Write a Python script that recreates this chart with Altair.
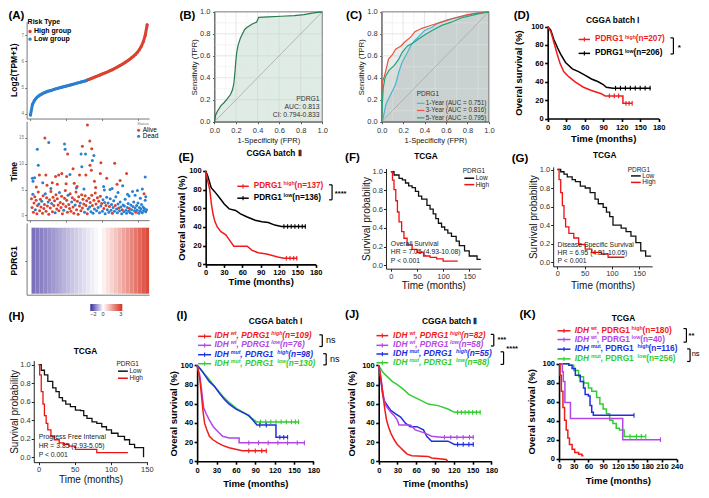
import altair as alt
import pandas as pd

W, H = 693, 482
FONT = "Liberation Sans"
RED = "#f01c1c"
PURPLE = "#b347e6"
BLUE = "#1f2fe0"
GREEN = "#33cc33"


def PX(r):
    return round(0.98 * r - 1, 2)


def PY(r):
    return round(0.968 * r - 0.8, 2)


# ---------------- data ----------------
# (A) sorted PDRG1 expression, 61 sampled ranks
a_expr = [3.95, 4.35, 4.5, 4.6, 4.67, 4.72, 4.76, 4.8, 4.83, 4.86, 4.88, 4.9, 4.93, 4.95, 4.97,
          4.99, 5.01, 5.03, 5.05, 5.07, 5.09, 5.11, 5.13, 5.15, 5.17, 5.19, 5.21, 5.23, 5.25, 5.28,
          5.31, 5.34, 5.37, 5.4, 5.43, 5.46, 5.49, 5.52, 5.55, 5.58, 5.61, 5.65, 5.68, 5.72, 5.76,
          5.8, 5.84, 5.88, 5.93, 5.98, 6.03, 6.08, 6.14, 6.2, 6.27, 6.35, 6.45, 6.58, 6.75, 7.0, 7.4]
a_expr_ticks = [4, 5, 6, 7]
a_rank_ticks = [0, 18.5, 37, 55.5]
a_time_ticks = [0, 5, 10, 15]
# (rank, time, dead)
scatter_points = [
    (1.0, 7.2, 1), (1.3, 6.6, 1), (2.1, 7.3, 1), (4.6, 7.8, 0), (3.5, 12.8, 1), (4.0, 9.7, 1),
    (7.4, 15.0, 0), (9.4, 14.1, 1), (7.9, 7.8, 0), (6.3, 6.3, 1), (14.5, 7.8, 0), (16.1, 8.1, 0),
    (18.6, 7.5, 0), (18.3, 6.1, 0), (17.5, 13.8, 1), (17.8, 12.8, 1), (19.1, 11.9, 0), (20.3, 7.9, 1),
    (12.9, 7.5, 0), (11.2, 6.3, 0), (25.2, 7.8, 0), (26.0, 11.9, 1), (26.4, 9.4, 1), (26.7, 13.4, 0),
    (29.3, 17.5, 0), (30.5, 14.4, 0), (31.5, 12.9, 0), (28.3, 11.9, 1), (32.6, 11.6, 1), (30.6, 9.7, 0),
    (31.3, 8.75, 0), (32.9, 6.6, 0), (36.2, 10.2, 0), (43.3, 10.1, 0), (31.8, 10.6, 1), (39.2, 7.2, 0),
    (40.9, 5.0, 1), (47.4, 5.75, 1), (46.1, 6.75, 0), (49.4, 8.1, 0), (59.0, 7.4, 1), (28.5, 7.8, 0),
    (21.9, 9.0, 0), (23.6, 5.3, 1), (35.9, 8.1, 0), (37.6, 5.6, 1), (45.0, 4.4, 1), (49.9, 4.1, 1),
    (50.7, 3.75, 1), (3.0, 5.5, 0), (8.5, 5.8, 0), (10.5, 5.2, 1), (13.8, 6.0, 0), (22.5, 6.2, 0),
    (24.0, 5.6, 0), (27.5, 5.1, 1), (33.5, 5.4, 0), (38.0, 4.9, 1), (42.0, 5.2, 1), (44.5, 6.0, 0),
    (52.5, 4.6, 1), (55.0, 4.8, 1), (57.5, 5.1, 1), (59.3, 3.6, 1), (53.8, 3.9, 1), (56.5, 3.3, 1),
    (58.4, 4.2, 0),
    (0.5, 3.2, 0), (0.8, 1.5, 0), (1.2, 4.1, 1), (1.5, 0.6, 0), (1.8, 2.4, 0), (2.2, 3.6, 0),
    (2.5, 1.1, 1), (2.9, 2.9, 0), (3.3, 0.3, 0), (3.6, 1.9, 0), (4.0, 4.5, 0), (4.3, 2.2, 1),
    (4.7, 0.9, 0), (5.1, 3.1, 0), (5.4, 1.6, 0), (5.8, 2.7, 1), (6.2, 0.4, 0), (6.5, 3.8, 0),
    (6.9, 1.3, 0), (7.2, 2.1, 0), (7.6, 4.2, 1), (8.0, 0.8, 0), (8.3, 3.4, 0), (8.7, 1.8, 0),
    (9.1, 2.6, 1), (9.4, 0.2, 0), (9.8, 3.0, 0), (10.2, 1.4, 0), (10.5, 4.6, 0), (10.9, 2.3, 1),
    (11.3, 0.7, 0), (11.6, 3.5, 0), (12.0, 1.9, 0), (12.4, 2.8, 0), (12.7, 0.5, 1), (13.1, 4.0, 0),
    (13.5, 1.2, 0), (13.8, 3.2, 0), (14.2, 2.0, 0), (14.6, 0.9, 0), (14.9, 4.4, 1), (15.3, 2.5, 0),
    (15.7, 1.5, 0), (16.0, 3.7, 0), (16.4, 0.3, 0), (16.8, 2.2, 0), (17.1, 1.0, 1), (17.5, 3.3, 0),
    (17.9, 4.8, 0), (18.2, 1.7, 0), (18.6, 2.9, 0), (19.0, 0.6, 0), (19.3, 3.9, 1), (19.7, 2.1, 0),
    (20.1, 1.3, 0), (20.4, 4.2, 0), (20.8, 0.8, 0), (21.2, 2.6, 1), (21.5, 3.4, 0), (21.9, 1.6, 0),
    (22.3, 0.4, 0), (22.6, 3.0, 0), (23.0, 2.0, 1), (23.4, 4.5, 0), (23.7, 1.1, 0), (24.1, 2.7, 0),
    (24.5, 0.2, 0), (24.8, 3.6, 0), (25.2, 1.8, 0), (25.6, 2.4, 1), (25.9, 0.9, 0), (26.3, 4.0, 0),
    (26.7, 1.4, 0), (27.0, 3.1, 0), (27.4, 2.2, 0), (27.8, 0.6, 1), (28.1, 3.8, 0), (28.5, 1.9, 0),
    (28.9, 2.8, 0), (29.2, 0.3, 0), (29.6, 1.2, 1), (30.0, 3.3, 0), (30.4, 1.6, 1), (30.7, 2.5, 0),
    (31.1, 0.7, 1), (31.5, 3.9, 0), (31.8, 1.9, 0), (32.2, 0.4, 1), (32.6, 2.9, 0), (32.9, 1.2, 1),
    (33.3, 4.3, 0), (33.7, 2.2, 0), (34.0, 0.9, 1), (34.4, 3.4, 0), (34.8, 1.5, 1), (35.1, 2.7, 0),
    (35.5, 0.5, 1), (35.9, 3.7, 0), (36.2, 1.8, 1), (36.6, 2.3, 0), (37.0, 0.8, 1), (37.3, 3.0, 1),
    (37.7, 1.3, 0), (38.1, 2.5, 1), (38.4, 0.3, 1), (38.8, 1.9, 0), (39.2, 3.5, 1), (39.5, 1.1, 1),
    (39.9, 2.4, 1), (40.3, 0.6, 1), (40.6, 1.7, 0), (41.0, 3.2, 1), (41.4, 1.0, 1), (41.7, 2.1, 1),
    (42.1, 0.4, 0), (42.5, 1.5, 1), (42.8, 2.8, 1), (43.2, 0.8, 1), (43.6, 1.9, 0), (43.9, 3.6, 1),
    (44.3, 1.2, 1), (44.7, 0.5, 1), (45.0, 2.2, 1), (45.4, 1.4, 0), (45.8, 0.9, 1), (46.1, 2.6, 1),
    (46.5, 1.6, 1), (46.9, 0.3, 1), (47.2, 1.1, 0), (47.6, 2.0, 1), (48.0, 0.7, 1), (48.3, 1.8, 1),
    (48.7, 3.1, 1), (49.1, 1.0, 1), (49.4, 0.4, 1), (49.8, 1.5, 1), (50.2, 2.3, 1), (50.5, 0.8, 1),
    (50.9, 1.3, 0), (51.3, 0.5, 1), (51.6, 2.0, 1), (52.0, 1.1, 1), (52.4, 0.3, 1), (52.7, 1.7, 1),
    (53.1, 2.6, 1), (53.5, 0.9, 1), (53.8, 1.4, 1), (54.2, 0.6, 0), (54.6, 1.9, 1), (54.9, 1.0, 1),
    (55.3, 2.4, 1), (55.7, 0.4, 1), (56.0, 1.5, 1), (56.4, 0.8, 1), (56.8, 1.2, 1), (57.1, 2.1, 1),
    (57.5, 0.5, 1), (57.9, 1.6, 1), (58.2, 0.9, 1), (58.6, 1.3, 1), (59.0, 2.9, 1), (59.3, 0.7, 1),
    (59.7, 1.1, 1),
]
heat_z = [-1.35, -1.27, -1.19, -1.11, -1.03, -0.95, -0.87, -0.79, -0.71, -0.63, -0.55, -0.47, -0.39,
          -0.31, -0.23, -0.15, -0.07, 0.0, 0.2, 0.42, 0.64, 0.86, 1.08, 1.3, 1.52, 1.74, 1.96, 2.18,
          2.4, 2.62]
heat_legend_values = [-2, 0, 3]

# (B) ROC
roc_ticks = [0, 0.2, 0.4, 0.6, 0.8, 1.0]
grid_minor = [0.1, 0.3, 0.5, 0.7, 0.9]
diag = [0, 1]
b_fpr = [0, 0.01, 0.03, 0.06, 0.09, 0.12, 0.15, 0.167, 0.18, 0.19, 0.197, 0.206, 0.22, 0.24, 0.26,
         0.28, 0.30, 0.35, 0.39, 0.41, 0.5, 0.62, 0.74, 0.83, 0.92, 1.0]
b_tpr = [0, 0.06, 0.1, 0.146, 0.175, 0.21, 0.25, 0.29, 0.35, 0.45, 0.54, 0.63, 0.70, 0.76, 0.80,
         0.84, 0.857, 0.89, 0.906, 0.95, 0.955, 0.96, 0.965, 0.975, 0.99, 1.0]
# (C) time-dependent ROC
c1_fpr = [0, 0.01, 0.04, 0.07, 0.1, 0.13, 0.16, 0.19, 0.24, 0.27, 0.3, 0.34, 0.4, 0.47, 0.53, 0.62,
          0.71, 0.8, 0.89, 1.0]
c1_tpr = [0, 0.015, 0.16, 0.22, 0.28, 0.34, 0.45, 0.54, 0.63, 0.69, 0.73, 0.77, 0.83, 0.86, 0.9,
          0.93, 0.95, 0.97, 0.99, 1.0]
c3_fpr = [0, 0.003, 0.01, 0.024, 0.04, 0.064, 0.1, 0.13, 0.18, 0.22, 0.27, 0.31, 0.375, 0.47, 0.56,
          0.68, 0.8, 0.92, 1.0]
c3_tpr = [0, 0.28, 0.37, 0.41, 0.47, 0.57, 0.61, 0.66, 0.69, 0.73, 0.77, 0.82, 0.85, 0.88, 0.906,
          0.944, 0.974, 0.99, 1.0]
c5_fpr = [0, 0.006, 0.015, 0.034, 0.07, 0.116, 0.16, 0.19, 0.24, 0.3, 0.34, 0.4, 0.47, 0.56, 0.65,
          0.74, 0.83, 0.92, 1.0]
c5_tpr = [0, 0.16, 0.31, 0.41, 0.47, 0.51, 0.57, 0.63, 0.69, 0.72, 0.75, 0.79, 0.83, 0.877, 0.906,
          0.944, 0.965, 0.985, 1.0]

# Kaplan-Meier curves (months, survival)
months_180 = [0, 30, 60, 90, 120, 150, 180]
months_240 = [0, 30, 60, 90, 120, 150, 180, 210, 240]
pct_ticks = [0, 20, 40, 60, 80, 100]
months_50 = [0, 50, 100, 150]
prob_ticks = [0.0, 0.2, 0.4, 0.6, 0.8, 1.0]

d_high_t = [0, 5, 10, 15, 20, 26, 34, 45, 58, 71, 87, 93, 122, 122, 137]
d_high_s = [100, 94.5, 83, 71, 60, 51, 45.5, 39.5, 34, 30.5, 27, 24.6, 24.6, 16.5, 16.5]
d_low_t = [0, 5, 10, 16, 21, 29, 40, 50, 61, 71, 82, 90, 95, 106, 167]
d_low_s = [100, 96, 86, 77, 70, 61, 54, 51, 47, 43, 40, 37, 34, 33, 33]
d_high_cens_t = [100, 108, 115, 127, 132, 137]
d_high_cens_s = [24.6, 24.6, 24.6, 16.5, 16.5, 16.5]
d_low_cens_t = [110, 118, 126, 134, 142, 150, 158, 166]
d_low_cens_s = [33, 33, 33, 33, 33, 33, 33, 33]

e_high_t = [0, 3, 6.7, 9.5, 12.3, 15, 19, 25, 33, 38.5, 46, 68, 76, 86, 100, 118, 128, 150]
e_high_s = [100, 90, 80, 64, 53, 46, 40, 35, 31.5, 26.5, 19.5, 19.5, 15, 12.5, 11, 8, 6.6, 6.6]
e_low_t = [0, 3.7, 9, 14.4, 22.4, 30.4, 38.5, 49, 57, 68, 81, 92, 102.5, 113, 124, 164]
e_low_s = [100, 94, 82, 78, 71.5, 64.5, 59.3, 57.6, 54, 50.7, 47.2, 45.5, 44.8, 42, 40.5, 40.5]
e_high_cens_t = [132, 138, 144, 149]
e_high_cens_s = [6.6, 6.6, 6.6, 6.6]
e_low_cens_t = [128, 134, 140, 146, 152, 158, 163]
e_low_cens_s = [40.5, 40.5, 40.5, 40.5, 40.5, 40.5, 40.5]

f_low_t = [0, 6, 15.6, 22, 28, 34, 40.6, 47, 53, 59, 69, 75, 81, 86, 91, 97, 103, 109, 116, 125,
           131, 141, 150, 165, 172]
f_low_s = [1, 0.965, 0.93, 0.914, 0.88, 0.85, 0.83, 0.79, 0.74, 0.707, 0.64, 0.6, 0.55, 0.5, 0.45,
           0.41, 0.38, 0.345, 0.31, 0.26, 0.21, 0.155, 0.1, 0.065, 0.065]
f_high_t = [0, 3, 6, 9.4, 12.5, 15.6, 20.6, 25, 31, 40.6, 50, 62.5, 75, 87.5, 100, 128]
f_high_s = [1, 0.91, 0.81, 0.69, 0.57, 0.465, 0.36, 0.29, 0.22, 0.17, 0.14, 0.1, 0.086, 0.07,
            0.045, 0.045]

g_low_t = [0, 6, 12, 18, 27, 33, 42, 51, 60, 69, 75, 84, 90, 96, 102, 117, 126, 135, 144, 153,
           162, 172]
g_low_s = [1, 0.976, 0.95, 0.92, 0.89, 0.87, 0.82, 0.8, 0.75, 0.68, 0.63, 0.59, 0.54, 0.49, 0.4,
           0.366, 0.33, 0.28, 0.21, 0.12, 0.065, 0.065]
g_high_t = [0, 3, 6, 9, 12, 15, 21, 30, 39, 51, 63, 81, 93, 123]
g_high_s = [1, 0.89, 0.75, 0.61, 0.47, 0.38, 0.31, 0.26, 0.19, 0.14, 0.105, 0.087, 0.052, 0.052]

h_low_t = [0, 3.6, 8, 12.7, 19.5, 24, 28.5, 33, 37.6, 44, 51, 58, 62.5, 67, 74, 80.6, 87.5, 94,
           101, 110, 119, 126, 133, 145.4, 145.4]
h_low_s = [1, 0.94, 0.89, 0.82, 0.75, 0.71, 0.645, 0.61, 0.575, 0.547, 0.51, 0.505, 0.45, 0.42,
           0.383, 0.366, 0.33, 0.296, 0.26, 0.226, 0.19, 0.14, 0.105, 0.105, 0]
h_high_t = [0, 1.4, 3.6, 6, 8, 10.4, 12.7, 17, 21.7, 28.5, 35, 42, 51, 80.6, 123.7]
h_high_s = [1, 0.89, 0.71, 0.575, 0.45, 0.366, 0.296, 0.226, 0.19, 0.157, 0.14, 0.12, 0.087, 0.05,
            0.05]

i_red_t = [0, 4, 6.6, 9, 11.6, 15, 19, 24, 32, 39.4, 49.5, 59.7, 70, 107.7]
i_red_s = [100, 86.5, 69.7, 52.9, 39.4, 32.7, 26, 22.6, 19.2, 16.5, 14.1, 12.5, 10.8, 10.8]
i_pur_t = [0, 4, 6.6, 10, 14, 19, 25, 32, 39.4, 49.5, 65, 65, 167]
i_pur_s = [100, 90, 76.4, 56, 49.5, 42.8, 36, 31, 26, 24.2, 24.2, 19.2, 19.2]
i_blu_t = [0, 6.6, 11.6, 19, 27, 34, 42, 49.5, 59.7, 70, 80, 87.5, 92.5, 122, 122, 140]
i_blu_s = [100, 95, 90, 83, 78, 71.4, 64.6, 59.6, 54.5, 51, 47.8, 42, 37.7, 37.7, 25, 25]
i_grn_t = [0, 9, 19, 29, 39.4, 49.5, 62, 72, 82, 90, 92, 158]
i_grn_s = [100, 93, 85, 76.4, 68, 61.3, 54.5, 51, 46, 42, 41, 41]
i_red_cens_t = [80, 90, 100, 107]
i_red_cens_s = [10.8, 10.8, 10.8, 10.8]
i_pur_cens_t = [80, 95, 110, 125, 140, 155, 166]
i_pur_cens_s = [19.2, 19.2, 19.2, 19.2, 19.2, 19.2, 19.2]
i_blu_cens_t = [97, 107, 128, 134, 140]
i_blu_cens_s = [37.7, 37.7, 25, 25, 25]
i_grn_cens_t = [98, 106, 114, 122, 130, 138, 146, 152, 157]
i_grn_cens_s = [41, 41, 41, 41, 41, 41, 41, 41, 41]

j_red_t = [0, 2, 4.7, 7.3, 10, 12.5, 15.6, 19.3, 24.5, 29.7, 35, 40, 45.4, 53, 79, 84.5, 108, 110]
j_red_s = [100, 93, 80, 66, 53, 43, 36, 29.3, 22.6, 17.5, 14, 10.8, 7.4, 5.7, 5, 3.4, 1.7, 0]
j_pur_t = [0, 3.7, 6.3, 9, 11.5, 15.6, 19.3, 24.5, 29.7, 32.4, 50.6, 58.4, 74, 84.5, 100, 152]
j_pur_s = [100, 86.5, 73, 63, 58, 54.5, 51, 47.8, 42.8, 37.7, 37.7, 32.7, 29.3, 26, 25, 25]
j_blu_t = [0, 3.7, 6.3, 9, 14, 19.3, 27, 35, 43, 50.6, 61, 71.5, 76.7, 84.5, 110.6, 121, 152]
j_blu_s = [100, 83, 69.7, 63, 58, 52.9, 49.5, 46, 39.4, 36, 36, 32.7, 26, 20.9, 20.9, 17.5, 17.5]
j_grn_t = [0, 6.3, 14, 22, 29.7, 40, 48, 58.4, 69, 79, 95, 110.6, 121, 163]
j_grn_s = [100, 93, 88, 83, 79.8, 74.7, 69.7, 66.3, 63, 59.6, 58, 54.5, 51, 51]
j_pur_cens_t = [105, 115, 125, 135, 145, 151]
j_pur_cens_s = [25, 25, 25, 25, 25, 25]
j_blu_cens_t = [126, 135, 144, 151]
j_blu_cens_s = [17.5, 17.5, 17.5, 17.5]
j_grn_cens_t = [126, 132, 138, 144, 150, 156, 162]
j_grn_cens_s = [51, 51, 51, 51, 51, 51, 51]

k_red_t = [0, 2, 4.7, 8, 11.3, 14.7, 18, 21.3, 26.7, 32, 40, 46.7, 50]
k_red_s = [100, 88, 71, 54, 40.7, 30.5, 22, 15.3, 10.2, 6.8, 5, 3.4, 3.4]
k_pur_t = [0, 6.7, 8.7, 12, 23.3, 130, 207]
k_pur_s = [100, 91.5, 81.4, 59.3, 42.4, 20.3, 20.3]
k_blu_t = [0, 20, 26.7, 33.3, 43.3, 50, 53.3, 60, 63.3, 66.7, 70, 153]
k_blu_s = [100, 98.3, 95, 88, 81.4, 74.6, 67.8, 66, 56, 49, 45.8, 45.8]
k_grn_t = [0, 20, 30, 40, 50, 60, 66.7, 76.7, 83.3, 90, 96.7, 103.3, 110, 116.7, 123.3, 133, 177]
k_grn_s = [100, 98.3, 93, 86.4, 79.7, 74.6, 71, 64.4, 57.6, 52.5, 47.5, 40.7, 37.3, 32.2, 30.5,
           23.7, 23.7]
k_pur_cens_t = [207]
k_pur_cens_s = [20.3]
k_blu_cens_t = [153]
k_blu_cens_s = [45.8]
k_grn_cens_t = [145, 158, 168, 177]
k_grn_cens_s = [23.7, 23.7, 23.7, 23.7]

# ---------------- helpers ----------------
ONE = pd.DataFrame({"k": [0]})


def txt(x, y, s, size=8, weight="normal", style="normal", color="black", align="left", angle=0,
        baseline="middle"):
    props = dict(font=FONT, fontSize=size, fontWeight=weight, fontStyle=style, color=color,
                 align=align, baseline=baseline)
    if angle:
        props["angle"] = angle
    return alt.Chart(ONE).mark_text(**props).encode(
        x=alt.value(PX(x)), y=alt.value(PY(y)), text=alt.value(s))


def seg(x1, y1, x2, y2, color="black", w=1.0):
    return alt.Chart(ONE).mark_rule(color=color, strokeWidth=w).encode(
        x=alt.value(PX(x1)), y=alt.value(PY(y1)), x2=alt.value(PX(x2)), y2=alt.value(PY(y2)))


def dot(x, y, color, size=10):
    return alt.Chart(ONE).mark_point(filled=True, size=size, color=color, opacity=1).encode(
        x=alt.value(PX(x)), y=alt.value(PY(y)))


BW = {" ": 278, "(": 333, ")": 333, ",": 278, "-": 333, ".": 278, "=": 584, "*": 389,
      "A": 722, "C": 722, "D": 722, "G": 778, "H": 722, "I": 278, "P": 667, "R": 722,
      "a": 556, "b": 611, "c": 556, "e": 556, "g": 611, "h": 611, "i": 278, "l": 278,
      "m": 889, "n": 611, "o": 611, "s": 556, "t": 333, "u": 611, "w": 778}


def tw(s, size):
    return sum(BW.get(ch, 556) for ch in s) * size / 1000.0


def rich(x, y, parts, size, color, italic_idx=()):
    out = []
    cx = x
    for k, (s, sup) in enumerate(parts):
        fs = size * 0.64 if sup else size
        yy = y - size * 0.36 if sup else y
        out.append(txt(cx, yy, s, fs, "bold", "italic" if k in italic_idx else "normal", color))
        cx += tw(s, fs)
    return out


def legline(x1, x2, y, color, w=1.5):
    xm = (x1 + x2) / 2
    return [seg(x1, y, x2, y, color, w), seg(xm, y - 2.2, xm, y + 2.2, color, 1.1)]


def bracket(x, y1, y2, w=1.2):
    return [seg(x, y1, x, y2, "black", w), seg(x - 3, y1, x, y1, "black", w),
            seg(x - 3, y2, x, y2, "black", w)]


def scx(dom, lo, hi):
    return alt.Scale(domain=dom, range=[PX(lo), PX(hi)], nice=False, zero=False)


def scy(dom, lo, hi):
    return alt.Scale(domain=dom, range=[PY(lo), PY(hi)], nice=False, zero=False)


def xax(ypos, values, title, style, tpad=2, lpad=1.5, **kw):
    d = dict(style)
    d.update(kw)
    return alt.Axis(orient="bottom", offset=round(PY(ypos) - H, 2), values=values, title=title,
                    titlePadding=tpad, labelPadding=lpad, **d)


def yax(xpos, values, title, style, tpad=2, lpad=1.5, **kw):
    d = dict(style)
    d.update(kw)
    return alt.Axis(orient="left", offset=-PX(xpos), values=values, title=title,
                    titlePadding=tpad, labelPadding=lpad, **d)


GP = dict(domainColor="black", domainWidth=1.6, tickColor="black", tickWidth=1.6, tickSize=3,
          labelFont=FONT, labelFontSize=7.5, labelFontWeight="bold", labelColor="black",
          titleFont=FONT, titleFontSize=9.5, titleFontWeight="bold", titleColor="black",
          labelFlush=False, labelOverlap=False, grid=False, format="d")
SM = dict(domainColor="#222", domainWidth=1.0, tickColor="#222", tickWidth=1.0, tickSize=2.5,
          labelFont=FONT, labelFontSize=7.5, labelColor="#333", titleFont=FONT, titleFontSize=10,
          titleFontWeight="normal", titleColor="#111", labelFlush=False, labelOverlap=False,
          grid=False)
ROC = dict(domainColor="#333", domainWidth=0.8, tickColor="#333", tickWidth=0.8, tickSize=2,
           labelFont=FONT, labelFontSize=7.5, labelColor="#333", titleFont=FONT, titleFontSize=7.5,
           titleFontWeight="normal", titleColor="#111", labelFlush=False, labelOverlap=False,
           grid=False, format=".1f")
AXA = dict(domainColor="#555", domainWidth=0.8, tickColor="#555", tickWidth=0.7, tickSize=2,
           labelFont=FONT, labelFontSize=4.5, labelColor="#777", labelFlush=False,
           labelOverlap=False, grid=False)


def km(curves, xs, ys, xaxis, yaxis, interp, sw=1.5, cens=()):
    frames = []
    for gi, (t, s, c) in enumerate(curves):
        frames.append(pd.DataFrame({"t": t, "s": s, "o": list(range(len(t))), "c": c, "g": gi}))
    df = pd.concat(frames, ignore_index=True)
    out = [alt.Chart(df).mark_line(interpolate=interp, strokeWidth=sw).encode(
        x=alt.X("t:Q", scale=xs, axis=xaxis),
        y=alt.Y("s:Q", scale=ys, axis=yaxis),
        color=alt.Color("c:N", scale=None),
        detail="g:N",
        order=alt.Order("o:Q"),
    )]
    if cens:
        cdf = pd.concat([pd.DataFrame({"t": t, "s": s, "c": c}) for t, s, c in cens],
                        ignore_index=True)
        out.append(alt.Chart(cdf).mark_point(shape="M0,-1L0,1", size=22, strokeWidth=1.1,
                                             filled=False, opacity=1).encode(
            x=alt.X("t:Q", scale=xs, axis=None), y=alt.Y("s:Q", scale=ys, axis=None),
            color=alt.Color("c:N", scale=None)))
    return out


def roc_panel(curves, xs, ys, xaxis, yaxis, fill, fill_op):
    layers = []
    gmin = pd.DataFrame({"v": grid_minor})
    gmaj = pd.DataFrame({"v": roc_ticks})
    for fpr, tpr, c in curves:
        df = pd.DataFrame({"f": fpr, "t": tpr})
        layers.append(alt.Chart(df).mark_area(color=fill, opacity=fill_op).encode(
            x=alt.X("f:Q", scale=xs, axis=None), y=alt.Y("t:Q", scale=ys, axis=None)))
    for gdf, colr, w in [(gmin, "#e6e6e6", 0.5), (gmaj, "#d0d0d0", 0.6)]:
        layers.append(alt.Chart(gdf).mark_rule(color=colr, strokeWidth=w, opacity=0.9).encode(
            x=alt.X("v:Q", scale=xs, axis=None),
            y=alt.YDatum(0, type="quantitative", scale=ys, axis=None), y2=alt.Y2Datum(1)))
        layers.append(alt.Chart(gdf).mark_rule(color=colr, strokeWidth=w, opacity=0.9).encode(
            y=alt.Y("v:Q", scale=ys, axis=None),
            x=alt.XDatum(0, type="quantitative", scale=xs, axis=None), x2=alt.X2Datum(1)))
    layers.append(alt.Chart(pd.DataFrame({"v": diag})).mark_line(color="#a8a8a8", strokeWidth=0.8).encode(
        x=alt.X("v:Q", scale=xs, axis=None), y=alt.Y("v:Q", scale=ys, axis=None)))
    frames = []
    for gi, (fpr, tpr, c) in enumerate(curves):
        frames.append(pd.DataFrame({"f": fpr, "t": tpr, "c": c, "g": gi, "o": list(range(len(fpr)))}))
    df = pd.concat(frames, ignore_index=True)
    layers.append(alt.Chart(ONE).mark_rect(fillOpacity=0, stroke="#555", strokeWidth=0.7).encode(
        x=alt.XDatum(0, type="quantitative", scale=xs, axis=None), x2=alt.X2Datum(1),
        y=alt.YDatum(0, type="quantitative", scale=ys, axis=None), y2=alt.Y2Datum(1)))
    layers.append(alt.Chart(df).mark_line(strokeWidth=1.2).encode(
        x=alt.X("f:Q", scale=xs, axis=xaxis), y=alt.Y("t:Q", scale=ys, axis=yaxis),
        color=alt.Color("c:N", scale=None), detail="g:N", order=alt.Order("o:Q")))
    return layers


panels = []
ann = []

# ---------------- (A) ----------------
xsA = scx([-2, 61], 20, 145)
ysA1 = scy([3.815, 7.52], 115, 15)
n_blue = 31
a1_df = pd.DataFrame({
    "r": list(range(n_blue)) + list(range(n_blue - 1, len(a_expr))),
    "v": a_expr[:n_blue] + a_expr[n_blue - 1:],
    "c": ["#2a7fd0"] * n_blue + ["#d8432f"] * (len(a_expr) - n_blue + 1),
})
a1_df["o"] = list(range(len(a1_df)))
panels.append(alt.Chart(a1_df).mark_line(strokeWidth=3, strokeCap="round").encode(
    x=alt.X("r:Q", scale=xsA, axis=xax(115, a_rank_ticks, "", AXA, 0, 1, labels=False)),
    y=alt.Y("v:Q", scale=ysA1, axis=yax(20, a_expr_ticks, "", AXA, 0, 1)),
    color=alt.Color("c:N", scale=None), order=alt.Order("o:Q")))
panels.append(alt.Chart(a1_df).mark_circle(size=9, opacity=1).encode(
    x=alt.X("r:Q", scale=xsA, axis=None), y=alt.Y("v:Q", scale=ysA1, axis=None),
    color=alt.Color("c:N", scale=None)))

ysA2 = scy([-0.94, 18.19], 220, 118)
a2_df = pd.DataFrame(scatter_points, columns=["r", "t", "d"])
a2_df["c"] = ["#2a7fd0" if d else "#d8432f" for d in a2_df["d"]]
panels.append(alt.Chart(a2_df).mark_circle(size=9, opacity=1).encode(
    x=alt.X("r:Q", scale=xsA, axis=xax(220, a_rank_ticks, "", AXA, 0, 1, labels=False)),
    y=alt.Y("t:Q", scale=ysA2, axis=yax(20, a_time_ticks, "", AXA, 0, 1)),
    color=alt.Color("c:N", scale=None)))

xsA3 = scx([-1.25, 30], 20, 145)
ysA3 = scy([-0.015, 1.07], 297, 223)
a3_df = pd.DataFrame({"c": list(range(len(heat_z))), "z": heat_z})
a3_df["c2"] = a3_df["c"] + 1
panels.append(alt.Chart(a3_df).mark_rect().encode(
    x=alt.X("c:Q", scale=xsA3, axis=xax(297, [0], "", AXA, 0, 1, labels=False, ticks=False)),
    x2="c2:Q",
    y=alt.YDatum(0, type="quantitative", scale=ysA3,
                 axis=yax(20, [0.5], "", AXA, 0, 1, labels=False)),
    y2=alt.Y2Datum(1),
    color=alt.Color("z:Q", scale=alt.Scale(domain=[-2, 0, 3], range=["#3a2b9c", "#ffffff", "#d7301f"],
                                          interpolate="rgb"),
                    legend=alt.Legend(orient="none", legendX=PX(85), legendY=PY(306.5),
                                      direction="horizontal", gradientLength=32, gradientThickness=7,
                                      title=None, values=heat_legend_values, labelFontSize=5.5,
                                      labelFont=FONT, labelColor="#333", labelOffset=1,
                                      gradientStrokeWidth=0))))

ann += [txt(1.5, 9, "(A)", 11.5, "bold"),
        txt(21, 15, "Risk Type", 7, "bold"),
        dot(23.5, 25, "#d8432f", 12), txt(27.5, 25, "High group", 7, "bold"),
        dot(23.5, 33, "#2a7fd0", 12), txt(27.5, 33, "Low group", 7, "bold"),
        txt(7, 65, "Log2(TPM+1)", 8.5, "bold", angle=270, align="center"),
        txt(133, 121, "Status", 4, color="#777"),
        dot(134.3, 127, "#d8432f", 9), txt(138.5, 127, "Alive", 6.5),
        dot(134.3, 133.3, "#2a7fd0", 9), txt(138.5, 133.3, "Dead", 6.5),
        txt(7, 170, "Time", 8.5, "bold", angle=270, align="center"),
        txt(7, 262, "PDRG1", 8.5, "bold", angle=270, align="center")]

# ---------------- (B) ----------------
xsB = scx([0, 1], 211.7, 321.7)
ysR = scy([0, 1], 118.3, 4.8)
panels += roc_panel([(b_fpr, b_tpr, "#2a7a50")], xsB, ysR,
                    xax(118.3, roc_ticks, "1-Specificity (FPR)", ROC, 2.5, 2.5),
                    yax(211.7, roc_ticks, "Sensitivity (TPR)", ROC, 1.5, 2.5),
                    "#7fae98", 0.25)
ann += [txt(176, 9, "(B)", 11.5, "bold"),
        txt(319, 95, "PDRG1", 6.8, color="#333", align="right"),
        txt(319, 103.3, "AUC: 0.813", 6.8, color="#333", align="right"),
        txt(319, 111.7, "CI: 0.794-0.833", 6.8, color="#333", align="right")]

# ---------------- (C) ----------------
xsC = scx([0, 1], 382.3, 491.7)
C1, C3, C5 = "#45b7d3", "#e8553f", "#1ea67c"
panels += roc_panel([(c1_fpr, c1_tpr, C1), (c3_fpr, c3_tpr, C3), (c5_fpr, c5_tpr, C5)],
                    xsC, ysR,
                    xax(118.3, roc_ticks, "1-Specificity (FPR)", ROC, 2.5, 2.5),
                    yax(382.3, roc_ticks, "Sensitivity (TPR)", ROC, 1.5, 2.5),
                    "#8fa59e", 0.2)
ann += [txt(346, 9, "(C)", 11.5, "bold"),
        txt(418, 90, "PDRG1", 6.5, color="#333"),
        seg(418.3, 99.3, 426, 99.3, C1, 1.2), txt(427.3, 99.3, "1-Year (AUC = 0.751)", 6.3, color="#333"),
        seg(418.3, 106.7, 426, 106.7, C3, 1.2), txt(427.3, 106.7, "3-Year (AUC = 0.816)", 6.3, color="#333"),
        seg(418.3, 114.3, 426, 114.3, C5, 1.2), txt(427.3, 114.3, "5-Year (AUC = 0.795)", 6.3, color="#333")]

# ---------------- (D) ----------------
panels += km([(d_low_t, d_low_s, "black"), (d_high_t, d_high_s, RED)],
             scx([0, 180], 551.7, 665), scy([0, 100], 115, 20),
             xax(115, months_180, "Time (months)", GP, 3.2, 1.5),
             yax(551.7, pct_ticks, "Overal survival (%)", GP, 7, 1.5), "linear",
             cens=[(d_low_cens_t, d_low_cens_s, "black"), (d_high_cens_t, d_high_cens_s, RED)])
ann += [txt(517, 9, "(D)", 11.5, "bold"),
        txt(618, 14, "CGGA batch Ⅰ", 8.3, "bold", align="center")]
ann += legline(583.3, 595, 33.3, RED)
ann += rich(600, 33.3, [("PDRG1 ", 0), ("high", 1), ("(n=207)", 0)], 8.2, RED)
ann += legline(583.3, 595, 47.7, "black")
ann += rich(600, 47.7, [("PDRG1 ", 0), ("low", 1), ("(n=206)", 0)], 8.2, "black")
ann += bracket(680, 31.7, 48.3)
ann += [txt(684.5, 42, "*", 8, "bold")]

# ---------------- (E) ----------------
panels += km([(e_low_t, e_low_s, "black"), (e_high_t, e_high_s, RED)],
             scx([0, 180], 202.7, 315), scy([0, 100], 265.7, 169),
             xax(265.7, months_180, "Time (months)", GP, 0.5, 0.8),
             yax(202.7, pct_ticks, "Overal survival (%)", GP, 2, 1.5), "linear",
             cens=[(e_low_cens_t, e_low_cens_s, "black"), (e_high_cens_t, e_high_cens_s, RED)])
ann += [txt(175, 156, "(E)", 11.5, "bold"),
        txt(272.5, 151.7, "CGGA batch Ⅱ", 8.3, "bold", align="center")]
ann += legline(235, 246.7, 185, RED)
ann += rich(251.7, 185, [("PDRG1 ", 0), ("high", 1), ("(n=137)", 0)], 8.2, RED)
ann += legline(235, 246.7, 197.3, "black")
ann += rich(251.7, 197.3, [("PDRG1 ", 0), ("low", 1), ("(n=136)", 0)], 8.2, "black")
ann += bracket(331.7, 183.5, 199)
ann += [txt(334.5, 193.3, "****", 7.5, "bold")]

# ---------------- (F) ----------------
panels += km([(f_low_t, f_low_s, "#111111"), (f_high_t, f_high_s, "#ee1111")],
             scx([-9.4, 172], 386.7, 483.4), scy([-0.035, 1.035], 270.1, 166.6),
             xax(270.1, months_50, "Time (months)", SM, 0.5, 1, format="d"),
             yax(386.7, prob_ticks, "Survival probability", SM, 1, 1, format=".1f"),
             "step-after", 1.3)
ann += [txt(345, 156, "(F)", 11.5, "bold"),
        txt(427.5, 154.3, "TCGA", 8.3, "bold", align="center"),
        txt(465, 169, "PDRG1", 6.5, color="#222"),
        seg(466.7, 176.7, 476.7, 176.7, "#111111", 1.5), txt(478.3, 176.7, "Low", 6.5, color="#222"),
        seg(466.7, 183.3, 476.7, 183.3, "#ee1111", 1.5), txt(478.3, 183.3, "High", 6.5, color="#222"),
        txt(391.7, 245, "Overall Survival", 6.8, color="#222"),
        txt(391.7, 253.3, "HR = 7.05 (4.93-10.08)", 6.8, color="#222"),
        txt(391.7, 261.7, "P < 0.001", 6.8, color="#222")]

# ---------------- (G) ----------------
panels += km([(g_low_t, g_low_s, "#111111"), (g_high_t, g_high_s, "#ee1111")],
             scx([-7.9, 173.9], 557.3, 658.3), scy([-0.046, 1.028], 267.7, 165.0),
             xax(267.7, months_50, "Time (months)", SM, 3.5, 1, format="d"),
             yax(557.3, prob_ticks, "Survival probability", SM, 1, 1, format=".1f"),
             "step-after", 1.3)
ann += [txt(515, 157, "(G)", 11.5, "bold"),
        txt(610, 153.3, "TCGA", 8.3, "bold", align="center"),
        txt(633.3, 167.7, "PDRG1", 6.5, color="#222"),
        seg(636.7, 174.3, 646.7, 174.3, "#111111", 1.5), txt(648.3, 174.3, "Low", 6.5, color="#222"),
        seg(636.7, 181, 646.7, 181, "#ee1111", 1.5), txt(648.3, 181, "High", 6.5, color="#222"),
        txt(561.7, 246, "Disease Specific Survival", 6.8, color="#222"),
        txt(561.7, 254.3, "HR = 6.95 (4.81-10.05)", 6.8, color="#222"),
        txt(561.7, 262.3, "P < 0.001", 6.8, color="#222")]

# ---------------- (H) ----------------
panels += km([(h_low_t, h_low_s, "#111111"), (h_high_t, h_high_s, "#ee1111")],
             scx([-6.8, 150.8], 27.3, 143.3), scy([-0.052, 1.045], 470, 365),
             xax(470, months_50, "Time (months)", SM, 1, 1, format="d"),
             yax(27.3, prob_ticks, "Survival probability", SM, 0.5, 1, format=".1f"),
             "step-after", 1.3)
ann += [txt(1.5, 320, "(H)", 11.5, "bold"),
        txt(80, 355.7, "TCGA", 8.3, "bold", align="center"),
        txt(111.7, 368.7, "PDRG1", 6.5, color="#222"),
        seg(113.3, 376, 123.3, 376, "#111111", 1.5), txt(125, 376, "Low", 6.5, color="#222"),
        seg(113.3, 383.3, 123.3, 383.3, "#ee1111", 1.5), txt(125, 383.3, "High", 6.5, color="#222"),
        txt(32.3, 444.3, "Progress Free Interval", 6.8, color="#222"),
        txt(32.3, 453.3, "HR = 3.85 (2.93-5.05)", 6.8, color="#222"),
        txt(32.3, 462.7, "P < 0.001", 6.8, color="#222")]


# ---------------- (I), (J), (K) ----------------
def four_legend(rows_y, lx1, lx2, tx, ns, italic_idx, size=8.3):
    out = []
    cols = [RED, PURPLE, BLUE, GREEN]
    parts = [
        [("IDH ", 0), ("wt", 1), (", PDRG1 ", 0), ("high", 1), ("(n=%s)" % ns[0], 0)],
        [("IDH ", 0), ("wt", 1), (", PDRG1 ", 0), ("low", 1), ("(n=%s)" % ns[1], 0)],
        [("IDH ", 0), ("mut", 1), (",  PDRG1 ", 0), ("high", 1), (" (n=%s)" % ns[2], 0)],
        [("IDH ", 0), ("mut", 1), (",  PDRG1 ", 0), ("low", 1), (" (n=%s)" % ns[3], 0)],
    ]
    for y, c, p in zip(rows_y, cols, parts):
        out += legline(lx1, lx2, y, c)
        out += rich(tx, y, p, size, c, italic_idx)
    return out


ALLI = (0, 1, 2, 3, 4)
panels += km([(i_grn_t, i_grn_s, GREEN), (i_blu_t, i_blu_s, BLUE), (i_pur_t, i_pur_s, PURPLE),
              (i_red_t, i_red_s, RED)],
             scx([0, 180], 194, 312.7), scy([0, 100], 469, 370),
             xax(469, months_180, "Time (months)", GP, 4, 2.5),
             yax(194, pct_ticks, "Overal survival (%)", GP, 2, 1.5), "linear",
             cens=[(i_grn_cens_t, i_grn_cens_s, GREEN), (i_blu_cens_t, i_blu_cens_s, BLUE),
                   (i_pur_cens_t, i_pur_cens_s, PURPLE), (i_red_cens_t, i_red_cens_s, RED)])
ann += [txt(173, 319, "(I)", 11.5, "bold"),
        txt(274, 325, "CGGA batch Ⅰ", 8.3, "bold", align="center")]
ann += four_legend([340, 349.3, 359, 368.3], 195, 208.3, 211.7, ["109", "76", "98", "130"], ALLI)
ann += bracket(321.7, 338.5, 350.5) + bracket(325.7, 358, 369.5)
ann += [txt(325.5, 344, "ns", 9), txt(329.5, 363, "ns", 9)]

panels += km([(j_grn_t, j_grn_s, GREEN), (j_blu_t, j_blu_s, BLUE), (j_pur_t, j_pur_s, PURPLE),
              (j_red_t, j_red_s, RED)],
             scx([0, 180], 379.3, 494.3), scy([0, 100], 469, 370),
             xax(469, months_180, "Time (months)", GP, 4, 2.5),
             yax(379.3, pct_ticks, "Overal survival (%)", GP, 5, 1.5), "linear",
             cens=[(j_grn_cens_t, j_grn_cens_s, GREEN), (j_blu_cens_t, j_blu_cens_s, BLUE),
                   (j_pur_cens_t, j_pur_cens_s, PURPLE)])
ann += [txt(345, 318, "(J)", 11.5, "bold"),
        txt(451.7, 325, "CGGA batch Ⅱ", 8.3, "bold", align="center")]
ann += four_legend([339.3, 349.3, 358.3, 367.3], 377, 389, 394, ["82", "58", "55", "88"], ALLI)
ann += bracket(496.7, 338, 350) + bracket(506.7, 356, 369)
ann += [txt(500.5, 343.5, "***", 7.5, "bold"), txt(509.5, 353.5, "****", 7.5, "bold")]

panels += km([(k_grn_t, k_grn_s, GREEN), (k_blu_t, k_blu_s, BLUE), (k_pur_t, k_pur_s, PURPLE),
              (k_red_t, k_red_s, RED)],
             scx([0, 240], 563.3, 683.3), scy([0, 100], 466.7, 368.3),
             xax(466.7, months_240, "Time (months)", GP, 5.5, 0.8),
             yax(563.3, pct_ticks, "Overal survival (%)", GP, 5.5, 1.5), "step-after",
             cens=[(k_grn_cens_t, k_grn_cens_s, GREEN), (k_blu_cens_t, k_blu_cens_s, BLUE),
                   (k_pur_cens_t, k_pur_cens_s, PURPLE)])
ann += [txt(523, 318, "(K)", 11.5, "bold"),
        txt(629, 321.7, "TCGA", 8.3, "bold", align="center")]
ann += four_legend([334.3, 343.3, 353.3, 363.3], 561.7, 575, 579.3, ["180", "40", "116", "256"], (0,))
ann += bracket(693.3, 332, 346) + bracket(697, 353, 366)
ann += [txt(695.5, 340, "**", 7.5, "bold"), txt(698.6, 358.5, "ns", 7.5)]

chart = alt.layer(*(panels + ann)).resolve_scale(
    x="independent", y="independent", color="independent"
).resolve_axis(x="independent", y="independent").resolve_legend(color="independent").properties(
    width=W, height=H, padding=0, background="white",
    autosize=alt.AutoSizeParams(type="none"),
).configure_view(strokeWidth=0)

chart.save("out.html", embed_options={"renderer": "svg", "actions": False})
